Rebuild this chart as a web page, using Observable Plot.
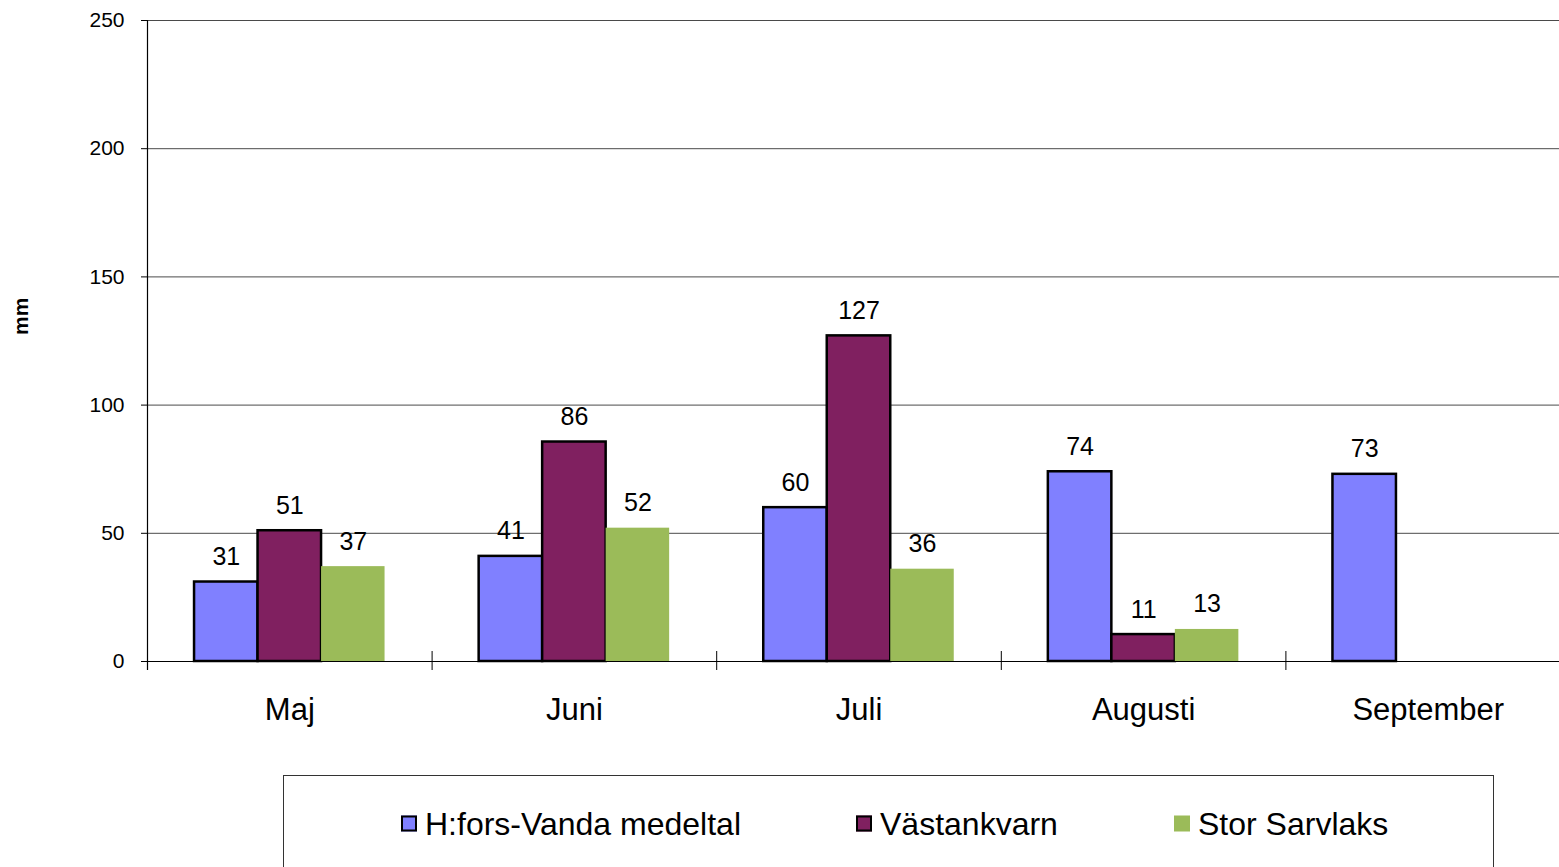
<!DOCTYPE html>
<html><head><meta charset="utf-8">
<script src="https://cdn.jsdelivr.net/npm/d3@7"></script>
<script src="https://cdn.jsdelivr.net/npm/@observablehq/plot@0.6"></script>
<style>
html,body{margin:0;padding:0;background:#fff;overflow:hidden;width:1559px;height:867px;}
#chart{position:absolute;left:0;top:0;width:1570px;}
#chart svg{max-width:none !important;}
#legend{position:absolute;left:283px;top:775px;width:1211px;height:120px;border:1.5px solid #333;box-sizing:border-box;font-family:"Liberation Sans",Arial,sans-serif;font-size:32px;background:#fff;}
.item{position:absolute;top:47.5px;transform:translateY(-50%);display:flex;align-items:center;gap:8px;white-space:nowrap;color:#000;}
.sw{width:16px;height:16px;box-sizing:border-box;}
</style></head><body>
<div id="chart"></div><div id="legend"></div>
<script>
const months = ["Maj", "Juni", "Juli", "Augusti", "September"];
const series = ["H:fors-Vanda medeltal", "Västankvarn", "Stor Sarvlaks"];
const hforsVanda = [31, 41, 60, 74, 73];
const vastankvarn = [51, 85.6, 127, 10.5, null];
const storSarvlaks = [37, 52, 36, 12.5, null];
const yTicks = [0, 50, 100, 150, 200, 250];
const colors = ["#8080FF", "#802060", "#9BBB59"];
const strokes = ["#000", "#000", "none"];
const legendLeft = [117, 572, 890];

const seriesValues = [hforsVanda, vastankvarn, storSarvlaks];
const rows = [];
series.forEach((s, i) => months.forEach((m, j) => {
  const v = seriesValues[i][j];
  if (v != null) rows.push({month: m, series: s, value: v});
}));

const W = 1570, H = 775, ML = 147, MR = 0, MT = 20, MB = 114;
const bw = (W - ML - MR) / months.length;
const barW = 63.5;
const ky = (H - MT - MB) / 250;

const marks = [
  Plot.gridY(yTicks, {stroke: "#4a4a4a", strokeOpacity: 1, strokeWidth: 1}),
  Plot.ruleY([0], {stroke: "#000", strokeWidth: 1.2}),
  ...series.map((s, i) => Plot.barY(rows.filter(r => r.series === s), {
    x: "month", y: "value", fill: colors[i], stroke: strokes[i], strokeWidth: 2.5,
    insetLeft: (bw - barW) / 2, insetRight: (bw - barW) / 2, dx: (i - 1) * barW
  })),
  ...series.map((s, i) => Plot.text(rows.filter(r => r.series === s), {
    x: "month", y: "value", text: d => String(Math.round(d.value)),
    dx: (i - 1) * barW, dy: -25, fontSize: 25, fill: "#000"
  })),
  Plot.ruleX([months[0]], {x: d => d, dx: -bw / 2, y1: -9 / ky, y2: 250, stroke: "#000", strokeWidth: 1.2}),
  Plot.ruleX(months.slice(1), {x: d => d, dx: -bw / 2, y1: -9 / ky, y2: 10 / ky, stroke: "#000", strokeWidth: 1}),
  Plot.axisY({ticks: yTicks, tickSize: 6, tickPadding: 17, fontSize: 21, label: null, stroke: "#000"}),
  Plot.axisX({tickSize: 0, tickPadding: 36, fontSize: 31, label: null}),
  Plot.text(["mm"], {frameAnchor: "left", rotate: -90, dx: -126, dy: -6, fontWeight: "bold", fontSize: 21, fill: "#000"})
];

const chart = Plot.plot({
  width: W, height: H,
  marginLeft: ML, marginRight: MR, marginTop: MT, marginBottom: MB,
  style: {fontFamily: "'Liberation Sans', Arial, sans-serif", fontSize: "21px", color: "#000", background: "#fff", overflow: "visible", maxWidth: "none"},
  x: {domain: months, padding: 0, round: false, axis: null},
  y: {domain: [0, 250], axis: null},
  marks
});
document.getElementById("chart").appendChild(chart);

const legend = document.getElementById("legend");
series.forEach((s, i) => {
  const item = document.createElement("div");
  item.className = "item";
  item.style.left = legendLeft[i] + "px";
  const sw = document.createElement("span");
  sw.className = "sw";
  sw.style.background = colors[i];
  if (strokes[i] !== "none") sw.style.border = "2px solid " + strokes[i];
  const t = document.createElement("span");
  t.textContent = s;
  item.appendChild(sw); item.appendChild(t);
  legend.appendChild(item);
});
</script>
</body></html>
